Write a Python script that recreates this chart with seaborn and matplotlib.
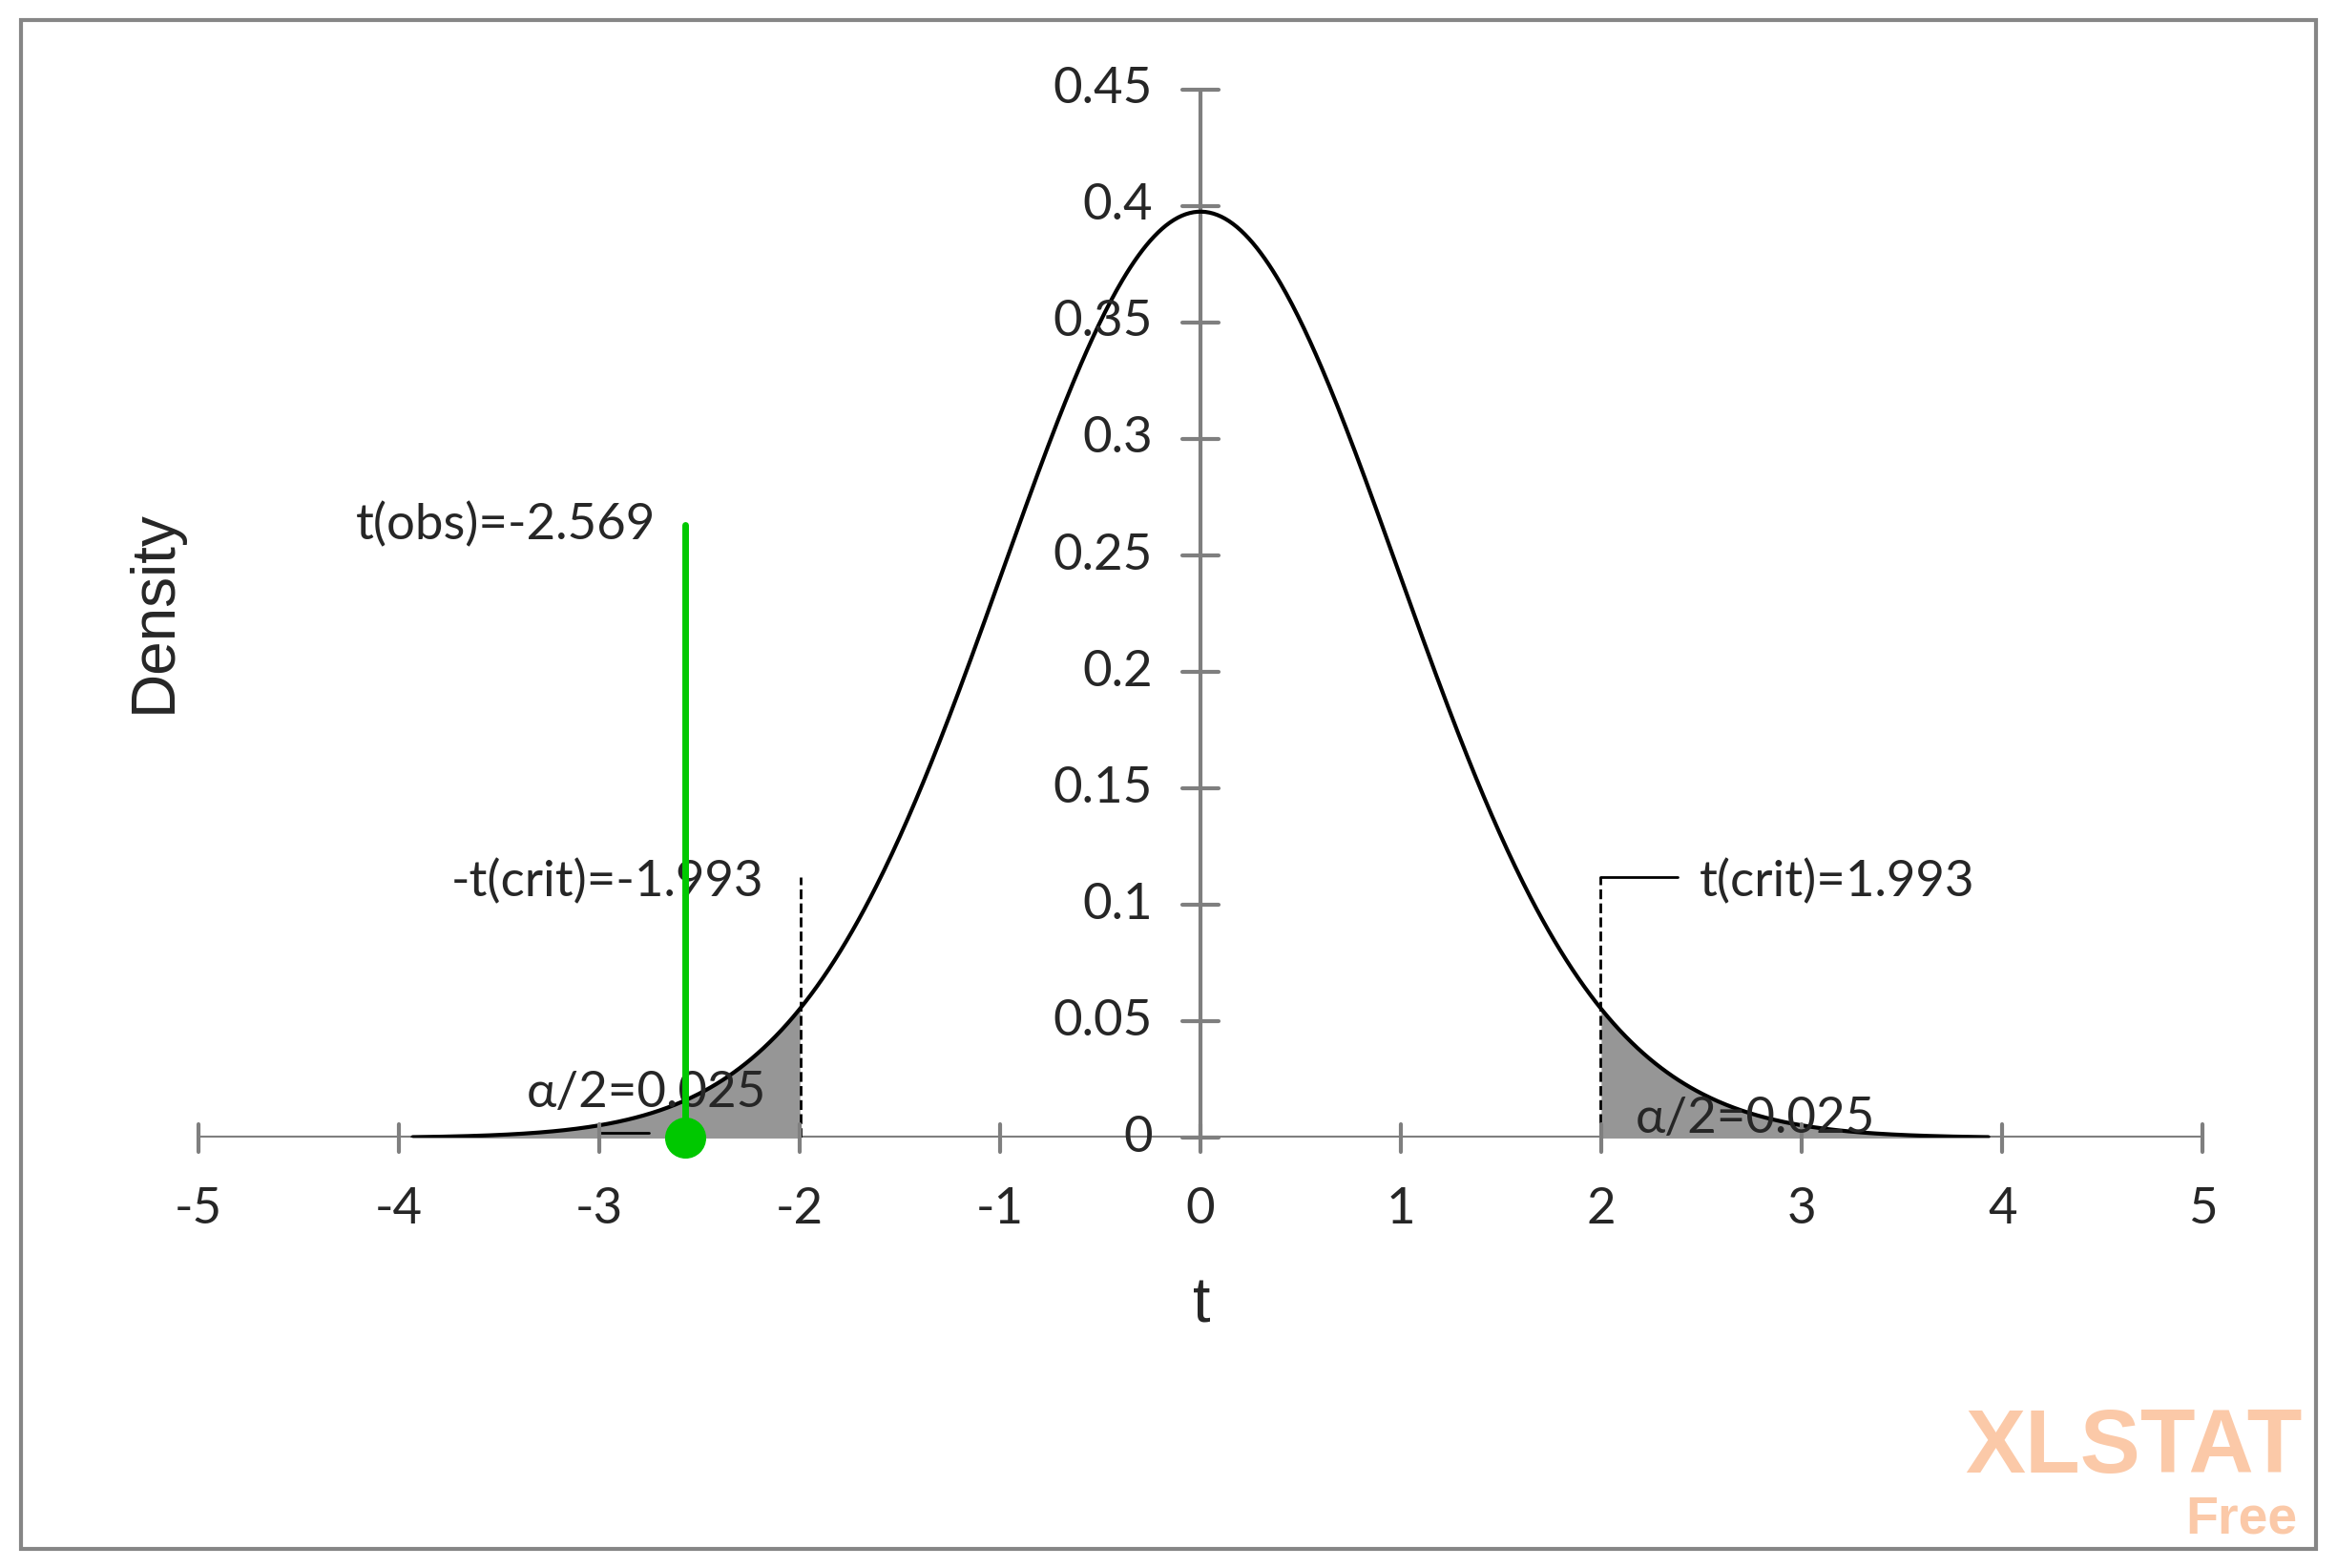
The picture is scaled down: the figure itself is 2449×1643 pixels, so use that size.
import numpy as np
import pandas as pd
import matplotlib.pyplot as plt
import seaborn as sns
from math import lgamma, pi
from matplotlib.patches import Rectangle

# Parameters of the test
dof = 73
t_obs = -2.569
t_crit = 1.993
alpha_half = 0.025
x_ticks = [-5, -4, -3, -2, -1, 0, 1, 2, 3, 4, 5]
y_ticks = [0, 0.05, 0.1, 0.15, 0.2, 0.25, 0.3, 0.35, 0.4, 0.45]
y_tick_labels = ['0', '0.05', '0.1', '0.15', '0.2', '0.25', '0.3', '0.35', '0.4', '0.45']

# Student t density
t = np.linspace(-3.93, 3.93, 800)
c = np.exp(lgamma((dof + 1) / 2) - lgamma(dof / 2)) / np.sqrt(dof * pi)
dens = c * (1 + t ** 2 / dof) ** (-(dof + 1) / 2)
df = pd.DataFrame({'t': t, 'Density': dens})

sns.set_style('white')
plt.rcParams['font.family'] = ['Lato', 'DejaVu Sans']
FS = 38
AX_COL = '#7f7f7f'

fig = plt.figure(figsize=(24.49, 16.43), dpi=100)
ax = fig.add_axes([0.0848, 0.2743, 0.8578, 0.6686])

sns.lineplot(data=df, x='t', y='Density', color='black', linewidth=3, ax=ax)

left = df[df['t'] <= -t_crit]
right = df[df['t'] >= t_crit]
ax.fill_between(left['t'], 0, left['Density'], color='#969696', zorder=1)
ax.fill_between(right['t'], 0, right['Density'], color='#969696', zorder=1)

# critical lines
ax.plot([-t_crit, -t_crit], [0, 0.112], 'k--', lw=2)
ax.plot([t_crit, t_crit], [0, 0.112], 'k--', lw=2)
ax.plot([t_crit, 2.38], [0.112, 0.112], 'k-', lw=2)
ax.text(-2.18, 0.110, '-t(crit)=-1.993', ha='right', va='center', fontsize=FS)
ax.text(2.49, 0.110, 't(crit)=1.993', ha='left', va='center', fontsize=FS)

# observed statistic
ax.plot([t_obs, t_obs], [0, 0.263], color='#00c800', lw=5, zorder=4)
ax.scatter([t_obs], [0], s=900, color='#00c800', zorder=5, clip_on=False)
ax.text(-2.72, 0.263, 't(obs)=-2.569', ha='right', va='center', fontsize=FS)

# alpha labels
ax.plot([-3.0, -2.75], [0.002, 0.002], 'k-', lw=2)
ax.text(-3.36, 0.019, 'α/2=0.025', ha='left', va='center', fontsize=FS)
ax.text(2.17, 0.008, 'α/2=0.025', ha='left', va='center', fontsize=FS)

ax.set_xlim(-5, 5)
ax.set_ylim(0, 0.45)
for s in ax.spines.values():
    s.set_visible(False)
ax.axhline(0, color=AX_COL, lw=3, zorder=0)
ax.axvline(0, color=AX_COL, lw=3, zorder=0)
ax.set_xticks([])
ax.set_yticks([])
ax.set_xlabel('')
ax.set_ylabel('')
for xv in x_ticks:
    ax.plot([xv, xv], [-0.006, 0.006], color=AX_COL, lw=3, clip_on=False)
    ax.text(xv, -0.021, str(xv), ha='center', va='top', fontsize=FS)
for yv, lab in zip(y_ticks, y_tick_labels):
    ax.plot([-0.09, 0.09], [yv, yv], color=AX_COL, lw=3, clip_on=False)
    ax.text(-0.24, yv, lab, ha='right', va='center', fontsize=FS)

fig.text(0.514, 0.167, 't', ha='center', va='center', fontsize=48, family='Liberation Sans')
fig.text(0.066, 0.61, 'Density', ha='center', va='center', rotation=90, fontsize=46,
         family='Liberation Sans')

# watermark
fig.text(0.985, 0.076, 'XLSTAT', ha='right', va='center', fontsize=68, fontweight='bold',
         color='#fbc9a8', family='Liberation Sans')
fig.text(0.983, 0.031, 'Free', ha='right', va='center', fontsize=40, fontweight='bold',
         color='#fbc9a8', family='Liberation Sans')

fig.patches.append(Rectangle((0.009, 0.012), 0.982, 0.975, transform=fig.transFigure,
                             fill=False, edgecolor='#868686', lw=3))

fig.savefig('out.png', dpi=100)
